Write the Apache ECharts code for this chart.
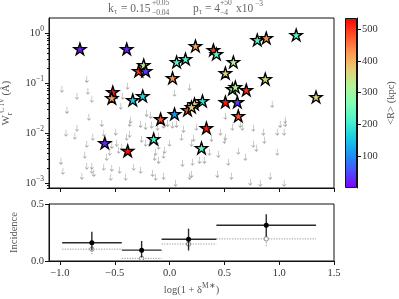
<!DOCTYPE html>
<html><head><meta charset="utf-8">
<script src="https://cdn.jsdelivr.net/npm/echarts@6/dist/echarts.min.js"></script>
<style>html,body{margin:0;padding:0;background:#fff}#c{width:399px;height:299px}</style>
</head><body><div id="c"></div>
<script>
// ---------- data ----------
const starX = [-0.818,-0.391,-0.282,-0.236,-0.218,0.064,0.145,0.027,-0.518,-0.527,-0.336,-0.245,0.236,0.400,0.427,0.582,0.509,0.800,0.882,1.155,0.873,1.336,0.573,0.600,0.700,0.509,0.618,0.300,0.227,0.164,0.200,0.045,-0.082,0.627,0.336,0.291,-0.591,-0.382,-0.145];
const starW = [0.479,0.479,0.174,0.229,0.174,0.263,0.302,0.126,0.066,0.050,0.0457,0.055,0.55,0.457,0.380,0.263,0.158,0.724,0.794,0.912,0.120,0.0525,0.0759,0.0832,0.0724,0.0417,0.0417,0.0437,0.038,0.0288,0.0331,0.024,0.019,0.0219,0.0126,0.0050,0.0063,0.0044,0.0076];
const starR = [20,25,500,340,40,230,220,430,510,420,165,175,420,500,230,325,365,230,430,230,360,360,300,320,505,520,40,200,365,480,370,110,480,480,520,240,25,525,215];

const limX = [-0.755,-0.982,-0.745,-0.845,-0.709,-0.382,-0.427,0.045,0.182,-0.445,0.936,
-0.936,-0.736,-0.618,-0.845,-0.945,-0.864,-0.755,-0.700,-0.600,-0.491,-0.364,-0.355,-0.391,-0.364,-0.482,-0.527,-0.545,-0.573,-0.464,-0.436,-0.773,-0.991,-0.755,-0.709,-0.709,-0.691,-0.800,-0.973,-0.600,-0.527,-0.455,-0.536,-0.400,-0.327,-0.264,
-0.209,-0.173,-0.264,-0.218,-0.164,-0.109,-0.055,-0.018,0.027,0.064,0.127,0.109,-0.255,-0.218,-0.182,-0.100,-0.118,-0.100,-0.127,-0.136,-0.100,-0.045,-0.055,0.000,-0.155,-0.127,-0.055,0.055,0.118,0.200,0.182,
0.509,0.645,0.664,0.573,0.764,0.855,0.982,1.045,1.009,1.055,1.055,0.245,0.464,0.382,0.218,0.500,0.509,0.864,0.764,0.791,0.627,0.445,0.364,0.691,0.982,0.209,0.273,0.318,0.536,0.200,0.436,0.564,0.918,0.736,0.827,1.045];
const limW = [0.120,0.0759,0.0692,0.0550,0.0479,0.0871,0.0550,0.0631,0.0832,0.0347,0.0380,
0.0288,0.0209,0.0158,0.0126,0.0100,0.00871,0.00603,0.00832,0.0100,0.0105,0.0158,0.0182,0.00832,0.00955,0.00631,0.00575,0.00417,0.00331,0.00457,0.00525,0.00363,0.00275,0.00219,0.00219,0.00182,0.00158,0.00138,0.00174,0.00209,0.00200,0.00182,0.00132,0.00132,0.00209,0.00182,
0.0251,0.0229,0.0151,0.0138,0.0145,0.0132,0.0145,0.0158,0.0145,0.0151,0.0120,0.00832,0.00759,0.00631,0.00631,0.00871,0.00661,0.00550,0.00417,0.00331,0.00288,0.00457,0.00363,0.00631,0.00158,0.00132,0.00138,0.00100,0.00251,0.00631,0.00138,
0.0219,0.0151,0.0132,0.0132,0.0126,0.0105,0.0105,0.0105,0.0151,0.0158,0.0182,0.0132,0.0105,0.00794,0.00794,0.00724,0.00832,0.00724,0.00603,0.00501,0.00437,0.00380,0.00417,0.00331,0.00417,0.00263,0.00288,0.00288,0.00263,0.00151,0.00151,0.00138,0.00138,0.00105,0.00100,0.00100];

const binLo = [-0.98,-0.436,-0.073,0.427];
const binHi = [-0.436,-0.073,0.427,1.336];
const binX  = [-0.709,-0.255,0.173,0.882];
const incid   = [0.160,0.095,0.191,0.313];
const incidLo = [0.095,0.030,0.095,0.212];
const incidHi = [0.257,0.176,0.284,0.410];
const nullInc = [0.104,0.023,0.149,0.194];
const nullLo  = [0.060,0.015,0.086,0.131];
const nullHi  = [0.120,0.030,0.170,0.257];

const xTicks = [-1.0,-0.5,0.0,0.5,1.0,1.5];
const logTicks = [0.001,0.01,0.1,1];
const logMinor = [0.0008,0.0009,0.002,0.003,0.004,0.005,0.006,0.007,0.008,0.009,0.02,0.03,0.04,0.05,0.06,0.07,0.08,0.09,0.2,0.3,0.4,0.5,0.6,0.7,0.8,0.9];
const incTicks = [0.0,0.5];
const cbTicks = [100,200,300,400,500];
const cbMin = 0, cbMax = 535;
const rainbow = ['#8000ff','#4d4ffc','#1a96f3','#1acee3','#4df3ce','#80ffb4','#b3f396','#e6ce74','#ff964f','#ff4f28','#ff0000'];

// ---------- chart ----------
const FF = '"Liberation Serif", serif';
const TC = '#333';
const NC = '#555';
const chart = echarts.init(document.getElementById('c'), null, {renderer:'canvas'});
const starPath = 'path://M50,0 L61.23,34.55 L97.55,34.55 L68.16,55.9 L79.39,90.45 L50,69.1 L20.61,90.45 L31.84,55.9 L2.45,34.55 L38.77,34.55 Z';
const arrowPath = 'path://M5,0 L5,14 M2,10 L5,14 L8,10';
const minus = s => String(s).replace('-', '\u2212');
const richBase = {
  t: {fontSize:10.5, fontFamily:FF, color:TC, lineHeight:16},
  sup: {fontSize:7.5, fontFamily:FF, color:TC, lineHeight:7, verticalAlign:'top'},
  sub: {fontSize:7.5, fontFamily:FF, color:TC, lineHeight:7, verticalAlign:'bottom'}
};
const richName = {
  t: {fontSize:10.5, fontFamily:FF, color:NC, lineHeight:16},
  sup: {fontSize:7.5, fontFamily:FF, color:NC, lineHeight:7, verticalAlign:'top'},
  sub: {fontSize:7.5, fontFamily:FF, color:NC, lineHeight:7, verticalAlign:'bottom'}
};
const lineC = {color:'#111', width:1};

function errRender(dark) {
  return function(params, api) {
    const xc = api.value(0), y = api.value(1), lo = api.value(2), hi = api.value(3), xl = api.value(4), xh = api.value(5);
    const p = api.coord([xc, y]), pl = api.coord([xl, y]), ph = api.coord([xh, y]);
    const pLo = api.coord([xc, lo]), pHi = api.coord([xc, hi]);
    const st = dark ? {stroke:'#2a2a2a', lineWidth:1.4} : {stroke:'#9a9a9a', lineWidth:1, lineDash:[1.3,1.3]};
    return {type:'group', children:[
      {type:'line', shape:{x1:pl[0], y1:pl[1], x2:ph[0], y2:ph[1]}, style:st},
      {type:'line', shape:{x1:pLo[0], y1:pLo[1], x2:pHi[0], y2:pHi[1]}, style:st},
      {type:'circle', shape:{cx:p[0], cy:p[1], r: dark ? 2.5 : 2.2},
        style: dark ? {fill:'#000'} : {fill:'#fff', stroke:'#8a8a8a', lineWidth:1}}
    ]};
  };
}

function tx(text, x, y, size) {
  return {type:'text', x:x, y:y, silent:true,
    style:{text:text, fontSize:size, fontFamily:FF, fill:'#666', verticalAlign:'middle'}};
}

const option = {
  animation:false,
  backgroundColor:'#fff',
  grid:[
    {left:49, top:18, width:285, height:170, show:true, borderColor:'#111', borderWidth:1, containLabel:false, outerBoundsMode:'none'},
    {left:49, top:204, width:285, height:57, show:true, borderColor:'#111', borderWidth:1, containLabel:false, outerBoundsMode:'none'},
    {left:345, top:18, width:12, height:170, show:false, containLabel:false, outerBoundsMode:'none'}
  ],
  visualMap:{type:'continuous', show:false, min:cbMin, max:cbMax, dimension:2, seriesIndex:1, inRange:{color:rainbow}},
  graphic:[
    tx('k', 108, 9, 11.5), tx('\u03c4', 114, 12, 7.5), tx('= 0.15', 121, 9, 11.5),
    tx('+0.05', 152, 3, 7.5), tx('\u22120.04', 152, 13, 7.5),
    tx('p', 193, 9, 11.5), tx('\u03c4', 199, 12, 7.5), tx('= 4', 205, 9, 11.5),
    tx('+50', 220, 3, 7.5), tx('\u22124', 220, 13, 7.5),
    tx('x10', 236, 9, 11.5), tx('\u22123', 255, 4, 7.5)
  ],
  xAxis:[
    {gridIndex:0, type:'value', min:-1.1, max:1.5, axisLine:{show:true, onZero:false, lineStyle:lineC},
     axisTick:{show:true, customValues:xTicks, length:4, lineStyle:lineC}, axisLabel:{show:false}, splitLine:{show:false}},
    {gridIndex:1, type:'value', min:-1.1, max:1.5, axisLine:{show:true, onZero:false, lineStyle:lineC},
     axisTick:{show:true, customValues:xTicks, length:4, lineStyle:lineC},
     axisLabel:{show:true, customValues:xTicks, margin:7, color:TC, fontFamily:FF, fontSize:10.5, formatter:v=>minus(v.toFixed(1))},
     splitLine:{show:false},
     name:'{t|log(1 + \u03b4}{sup|M\u2217}{t|)}', nameLocation:'middle', nameGap:21, nameTextStyle:{rich:richName, verticalAlign:'top'}},
    {gridIndex:2, type:'category', data:[''], show:false}
  ],
  yAxis:[
    {gridIndex:0, type:'log', logBase:10, min:0.000794, max:1.995, position:'left',
     axisLine:{show:true, onZero:false, lineStyle:lineC},
     axisTick:{show:true, customValues:logTicks, length:4, lineStyle:lineC},
     axisLabel:{show:true, customValues:logTicks, margin:5, formatter:v=>'{t|10}{sup|'+minus(Math.round(Math.log10(v)))+'}', rich:richBase},
     splitLine:{show:false}, minorTick:{show:false},
     name:'{t|W}{sub|r}{sup|C IV}{t| (\u00c5)}', nameLocation:'middle', nameGap:35, nameRotate:90, nameTextStyle:{rich:richName}},
    {gridIndex:0, type:'log', logBase:10, min:0.000794, max:1.995, position:'left',
     axisLine:{show:false, onZero:false}, axisTick:{show:true, customValues:logMinor, length:2, lineStyle:lineC},
     axisLabel:{show:false}, splitLine:{show:false}},
    {gridIndex:1, type:'value', min:0, max:0.5, position:'left',
     axisLine:{show:true, onZero:false, lineStyle:lineC},
     axisTick:{show:true, customValues:incTicks, length:4, lineStyle:lineC},
     axisLabel:{show:true, customValues:incTicks, margin:5, color:TC, fontFamily:FF, fontSize:10.5, formatter:v=>v.toFixed(1)},
     splitLine:{show:false},
     name:'Incidence', nameLocation:'middle', nameGap:27, nameRotate:90, nameTextStyle:{color:NC, fontFamily:FF, fontSize:10.5}},
    {gridIndex:2, type:'value', min:cbMin, max:cbMax, position:'right',
     axisLine:{show:true, onZero:false, lineStyle:lineC},
     axisTick:{show:true, customValues:cbTicks, length:4, lineStyle:lineC},
     axisLabel:{show:true, customValues:cbTicks, margin:5, color:TC, fontFamily:FF, fontSize:10.5},
     splitLine:{show:false},
     name:'<R> (kpc)', nameLocation:'middle', nameGap:29, nameRotate:90, nameTextStyle:{color:NC, fontFamily:FF, fontSize:10.5}}
  ],
  series:[
    {type:'scatter', xAxisIndex:0, yAxisIndex:0, silent:true, z:2,
     data:limX.map((x,i)=>[x, limW[i]]), symbol:arrowPath, symbolSize:[3.5,6.5],
     itemStyle:{color:'rgba(0,0,0,0)', borderColor:'#a8a8a8', borderWidth:0.8, opacity:1}},
    {type:'scatter', xAxisIndex:0, yAxisIndex:0, silent:true, z:3,
     data:starX.map((x,i)=>[x, starW[i], starR[i]]), symbol:starPath, symbolSize:[12,11.5],
     itemStyle:{borderColor:'#000', borderWidth:1.4, opacity:1}},
    {type:'custom', xAxisIndex:1, yAxisIndex:2, silent:true, z:2, renderItem:errRender(false),
     data:binX.map((x,i)=>[x, nullInc[i], nullLo[i], nullHi[i], binLo[i], binHi[i]])},
    {type:'custom', xAxisIndex:1, yAxisIndex:2, silent:true, z:3, renderItem:errRender(true),
     data:binX.map((x,i)=>[x, incid[i], incidLo[i], incidHi[i], binLo[i], binHi[i]])},
    {type:'bar', xAxisIndex:2, yAxisIndex:3, silent:true, barWidth:'100%', data:[cbMax],
     itemStyle:{borderColor:'#111', borderWidth:1,
       color:new echarts.graphic.LinearGradient(0,1,0,0, rainbow.map((c,i)=>({offset:i/(rainbow.length-1), color:c})))}}
  ]
};
chart.setOption(option);
</script></body></html>
